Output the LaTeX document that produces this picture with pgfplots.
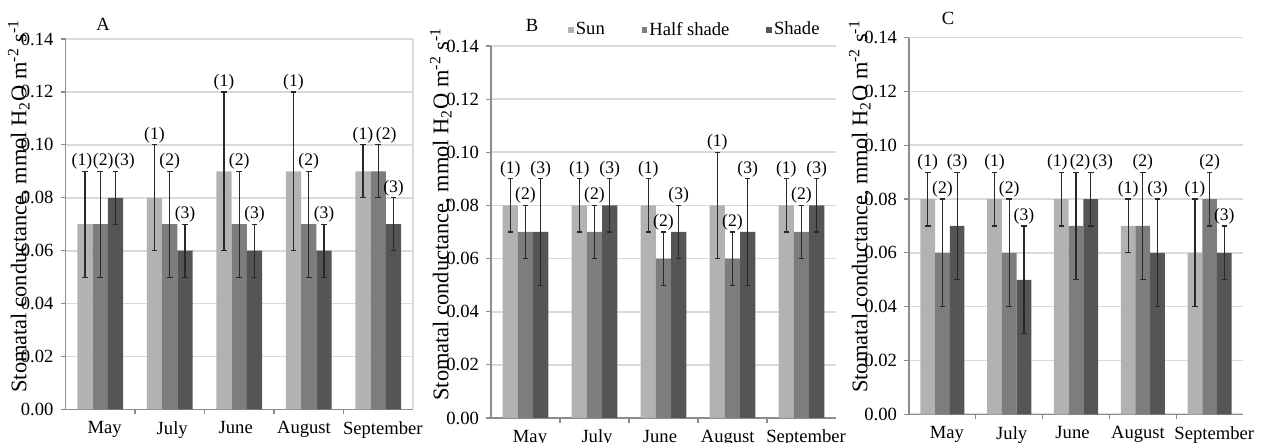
\documentclass[border=0pt]{standalone}
\usepackage{fontspec}
\setmainfont{Liberation Serif}
\usepackage{pgfplots}
\usepackage{pgfplotstable}
\pgfplotsset{compat=1.18}
\definecolor{sunc}{RGB}{178,178,178}
\definecolor{halfc}{RGB}{125,125,125}
\definecolor{shadec}{RGB}{85,85,85}
\definecolor{gridc}{RGB}{218,218,218}
\definecolor{axc}{RGB}{140,140,140}
\definecolor{errc}{RGB}{40,40,40}

% x: month index; s/h/d: Sun/Half shade/Shade; se/he/de: errors
% a1/a2/a3: horizontal nudges (pt) of the (1)/(2)/(3) labels
\pgfplotstableread{
x s se h he d de a1 a2 a3
0 0.07 0.02 0.07 0.02 0.08 0.01 -1.5 1.5 4.5
1 0.08 0.02 0.07 0.02 0.06 0.01 0 0 0
2 0.09 0.03 0.07 0.02 0.06 0.01 0 0 0
3 0.09 0.03 0.07 0.02 0.06 0.01 0 0 0
4 0.09 0.01 0.09 0.01 0.07 0.01 0 4 0
}\dataA
\pgfplotstableread{
x s se h he d de a1 a2 a3
0 0.08 0.01 0.07 0.01 0.07 0.02 0 0 0
1 0.08 0.01 0.07 0.01 0.08 0.01 0 0 0
2 0.08 0.01 0.06 0.01 0.07 0.01 0 0 0
3 0.08 0.02 0.06 0.01 0.07 0.02 0 0 0
4 0.08 0.01 0.07 0.01 0.08 0.01 0 0 0
}\dataB
\pgfplotstableread{
x s se h he d de a1 a2 a3
0 0.08 0.01 0.06 0.02 0.07 0.02 0 0 0
1 0.08 0.01 0.06 0.02 0.05 0.02 0 0 0
2 0.08 0.01 0.07 0.02 0.08 0.01 -2 2 6
3 0.07 0.01 0.07 0.02 0.06 0.02 0 0 0
4 0.06 0.02 0.08 0.01 0.06 0.01 0 0 0
}\dataC

\newcommand\tfont{\fontsize{9.3}{11}\selectfont}
\newcommand\yfont{\fontsize{11.2}{13}\selectfont}
\newcommand\lfont{\fontsize{8.8}{10}\selectfont}

\pgfplotsset{
  panel/.style={
    scale only axis,
    anchor=south west,
    ymin=0, ymax=0.14,
    ytick={0,0.02,0.04,0.06,0.08,0.10,0.12,0.14},
    xmin=-0.5, xmax=4.5,
    xtick={0,1,2,3,4},
    xticklabels={\hspace*{4.5pt}May, \hspace*{2.5pt}July, June\hspace*{3.5pt}, August\hspace*{4.8pt}, \hspace*{4.6pt}September},
    minor xtick={0.5,1.5,2.5,3.5},
    axis lines*=left,
    axis line style={axc, line width=0.7pt},
    ymajorgrids,
    major grid style={gridc, line width=0.8pt},
    tick align=outside,
    major tick length=2.5pt, minor tick length=2.5pt,
    major x tick style={draw=none},
    minor x tick style={draw=axc, line width=0.6pt},
    y tick style={axc, line width=0.6pt},
    tick label style={font=\tfont, text=black},
    /pgf/number format/assume math mode=true,
    yticklabel style={/pgf/number format/.cd, fixed, fixed zerofill, precision=2},
    title style={font=\tfont, anchor=center, yshift=-6pt},
    ylabel style={font=\yfont, anchor=center},
    ylabel={Stomatal conductance, mmol H\textsubscript{2}O m\textsuperscript{-2} s\textsuperscript{-1}},
    legend image code/.code={\fill[##1, draw=none] (0pt,-1.4pt) rectangle (2.8pt,1.4pt);},
  },
  bars/.style={ybar, bar width=0.22, draw=none,
    error bars/y dir=both, error bars/y explicit,
    error bars/error bar style={errc, line width=0.6pt},
    error bars/error mark options={rotate=90, errc, mark size=1.4pt, line width=0.6pt}},
  labs/.style 2 args={draw=none, mark=none, forget plot,
    nodes near coords={#1},
    visualization depends on={\thisrow{#2} \as \nudge},
    every node near coord/.append style={font=\lfont, text=black, anchor=south, inner sep=0.8pt,
      draw=none, fill=none, xshift=\nudge pt}},
}

\begin{document}
\begin{tikzpicture}
\useasboundingbox (0,0) rectangle (630.5pt,221.5pt);

% ---------- A ----------
\begin{axis}[panel, at={(32.75pt,16.75pt)}, width=173.75pt, height=185.25pt,
  title={A}, title style={at={(axis description cs:0.108,1.04)}},
  ylabel style={at={(axis description cs:-0.134,0.549)}},
  extra x ticks={4.5}, extra x tick labels={}, extra x tick style={xmajorgrids=true, major tick length=0pt}]
\addplot[bars, fill=sunc] table[x expr=\thisrow{x}-0.22, y=s, y error=se] {\dataA};
\addplot[bars, fill=halfc] table[x=x, y=h, y error=he] {\dataA};
\addplot[bars, fill=shadec] table[x expr=\thisrow{x}+0.22, y=d, y error=de] {\dataA};
\addplot[labs={(1)}{a1}] table[x expr=\thisrow{x}-0.22, y expr=\thisrow{s}+\thisrow{se}] {\dataA};
\addplot[labs={(2)}{a2}] table[x=x, y expr=\thisrow{h}+\thisrow{he}] {\dataA};
\addplot[labs={(3)}{a3}] table[x expr=\thisrow{x}+0.22, y expr=\thisrow{d}+\thisrow{de}] {\dataA};
\end{axis}

% ---------- B ----------
\begin{axis}[panel, at={(245.5pt,12.5pt)}, width=172.5pt, height=186pt,
  title={B}, title style={at={(axis description cs:0.119,1.056)}},
  ylabel style={at={(axis description cs:-0.145,0.548)}},
  legend columns=3,
  legend style={at={(axis description cs:0.591,1.043)}, anchor=center, draw=none, fill=none,
    font=\tfont, inner sep=0pt,
    /tikz/every even column/.append style={column sep=17.5pt},
    nodes={inner sep=1pt}}]
\addplot[bars, fill=sunc] table[x expr=\thisrow{x}-0.22, y=s, y error=se] {\dataB};
\addplot[bars, fill=halfc] table[x=x, y=h, y error=he] {\dataB};
\addplot[bars, fill=shadec] table[x expr=\thisrow{x}+0.22, y=d, y error=de] {\dataB};
\legend{Sun, Half shade, Shade}
\addplot[labs={(1)}{a1}] table[x expr=\thisrow{x}-0.22, y expr=\thisrow{s}+\thisrow{se}] {\dataB};
\addplot[labs={(2)}{a2}] table[x=x, y expr=\thisrow{h}+\thisrow{he}] {\dataB};
\addplot[labs={(3)}{a3}] table[x expr=\thisrow{x}+0.22, y expr=\thisrow{d}+\thisrow{de}] {\dataB};
\end{axis}

% ---------- C ----------
\begin{axis}[panel, at={(454.5pt,14.35pt)}, width=167pt, height=188.3pt,
  title={C}, title style={at={(axis description cs:0.117,1.052)}},
  ylabel style={at={(axis description cs:-0.147,0.552)}}]
\addplot[bars, fill=sunc] table[x expr=\thisrow{x}-0.22, y=s, y error=se] {\dataC};
\addplot[bars, fill=halfc] table[x=x, y=h, y error=he] {\dataC};
\addplot[bars, fill=shadec] table[x expr=\thisrow{x}+0.22, y=d, y error=de] {\dataC};
\addplot[labs={(1)}{a1}] table[x expr=\thisrow{x}-0.22, y expr=\thisrow{s}+\thisrow{se}] {\dataC};
\addplot[labs={(2)}{a2}] table[x=x, y expr=\thisrow{h}+\thisrow{he}] {\dataC};
\addplot[labs={(3)}{a3}] table[x expr=\thisrow{x}+0.22, y expr=\thisrow{d}+\thisrow{de}] {\dataC};
\end{axis}
\end{tikzpicture}
\end{document}
